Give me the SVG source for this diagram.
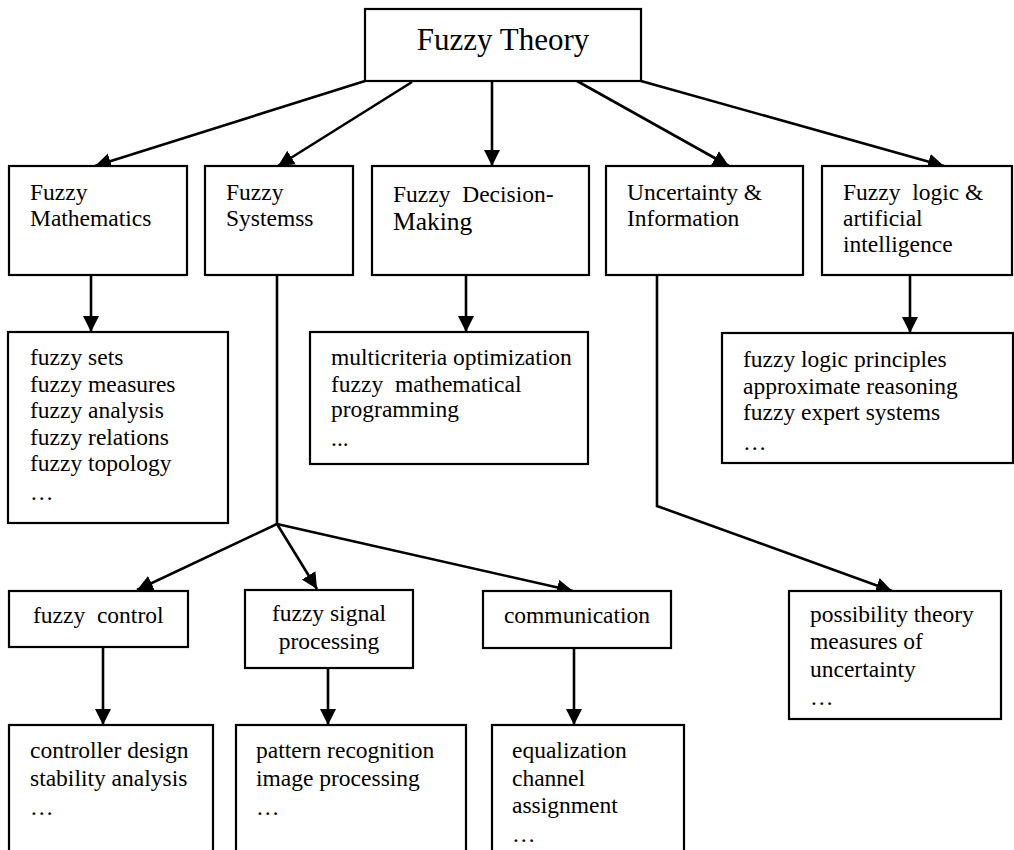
<svg xmlns="http://www.w3.org/2000/svg" width="1014" height="850" viewBox="0 0 1014 850">
<style>
  .box { fill: #fff; stroke: #000; stroke-width: 2.2; }
  .conn { fill: none; stroke: #000; stroke-width: 2.6; }
  text { font-family: "Liberation Serif", "Times New Roman", serif; font-size: 23.5px; fill: #000; }
  .title { font-size: 31px; }
  .big { font-size: 25.5px; }
</style>
<defs>
  <marker id="arr" markerUnits="userSpaceOnUse" markerWidth="18" markerHeight="20" viewBox="0 0 18 20" refX="16" refY="9" orient="auto">
    <path d="M0,1 L16,9 L0,17 z" fill="#000"/>
  </marker>
</defs>
<rect width="1014" height="850" fill="#fff"/>

<g id="connectors">
  <line class="conn" x1="365" y1="81" x2="95" y2="166" marker-end="url(#arr)"/>
  <line class="conn" x1="412" y1="82" x2="278" y2="166" marker-end="url(#arr)"/>
  <line class="conn" x1="492" y1="81" x2="492" y2="166" marker-end="url(#arr)"/>
  <line class="conn" x1="577" y1="81" x2="729" y2="166" marker-end="url(#arr)"/>
  <line class="conn" x1="641" y1="81" x2="944" y2="166" marker-end="url(#arr)"/>
  <line class="conn" x1="91" y1="275" x2="91" y2="332" marker-end="url(#arr)"/>
  <line class="conn" x1="466" y1="275" x2="466" y2="332" marker-end="url(#arr)"/>
  <line class="conn" x1="910" y1="275" x2="910" y2="333" marker-end="url(#arr)"/>
  <line class="conn" x1="277" y1="275" x2="277" y2="524"/>
  <line class="conn" x1="277" y1="524" x2="137" y2="590" marker-end="url(#arr)"/>
  <line class="conn" x1="277" y1="524" x2="317" y2="589" marker-end="url(#arr)"/>
  <line class="conn" x1="277" y1="524" x2="573" y2="591" marker-end="url(#arr)"/>
  <polyline class="conn" points="657,275 657,506 892,591" marker-end="url(#arr)"/>
  <line class="conn" x1="103" y1="647" x2="103" y2="725" marker-end="url(#arr)"/>
  <line class="conn" x1="328" y1="668" x2="328" y2="725" marker-end="url(#arr)"/>
  <line class="conn" x1="574" y1="648" x2="574" y2="725" marker-end="url(#arr)"/>
</g>

<g id="fuzzy-theory">
  <rect class="box" x="365" y="9" width="276" height="72"/>
  <text class="title" x="503" y="50" text-anchor="middle">Fuzzy Theory</text>
</g>

<g id="fuzzy-mathematics">
  <rect class="box" x="9" y="166" width="178" height="109"/>
  <text x="30" y="200">Fuzzy</text>
  <text x="30" y="226">Mathematics</text>
</g>

<g id="fuzzy-systems">
  <rect class="box" x="205" y="166" width="148" height="109"/>
  <text x="226" y="200">Fuzzy</text>
  <text x="226" y="226">Systemss</text>
</g>

<g id="fuzzy-decision">
  <rect class="box" x="372" y="166" width="217" height="109"/>
  <text x="393" y="202" xml:space="preserve">Fuzzy  Decision-</text>
  <text class="big" x="393" y="230">Making</text>
</g>

<g id="uncertainty">
  <rect class="box" x="606" y="166" width="197" height="109"/>
  <text x="627" y="200">Uncertainty &amp;</text>
  <text x="627" y="226">Information</text>
</g>

<g id="fuzzy-logic">
  <rect class="box" x="822" y="166" width="190" height="109"/>
  <text x="843" y="200" xml:space="preserve">Fuzzy  logic &amp;</text>
  <text x="843" y="226">artificial</text>
  <text x="843" y="252">intelligence</text>
</g>

<g id="math-topics">
  <rect class="box" x="8" y="332" width="220" height="191"/>
  <text x="30" y="365">fuzzy sets</text>
  <text x="30" y="391.5">fuzzy measures</text>
  <text x="30" y="418">fuzzy analysis</text>
  <text x="30" y="444.5">fuzzy relations</text>
  <text x="30" y="471">fuzzy topology</text>
  <text x="30" y="500">…</text>
</g>

<g id="decision-topics">
  <rect class="box" x="310" y="332" width="278" height="132"/>
  <text x="331" y="365">multicriteria optimization</text>
  <text x="331" y="391.5" xml:space="preserve">fuzzy  mathematical</text>
  <text x="331" y="417">programming</text>
  <text x="331" y="446">...</text>
</g>

<g id="logic-topics">
  <rect class="box" x="722" y="333" width="291" height="130"/>
  <text x="743" y="367">fuzzy logic principles</text>
  <text x="743" y="393.5">approximate reasoning</text>
  <text x="743" y="420">fuzzy expert systems</text>
  <text x="743" y="450">…</text>
</g>

<g id="fuzzy-control">
  <rect class="box" x="9" y="591" width="179" height="56"/>
  <text x="33" y="623" xml:space="preserve">fuzzy  control</text>
</g>

<g id="signal-processing">
  <rect class="box" x="245" y="590" width="168" height="78"/>
  <text x="329" y="621" text-anchor="middle">fuzzy signal</text>
  <text x="329" y="649" text-anchor="middle">processing</text>
</g>

<g id="communication">
  <rect class="box" x="483" y="591" width="188" height="57"/>
  <text x="577" y="623" text-anchor="middle">communication</text>
</g>

<g id="possibility">
  <rect class="box" x="789" y="591" width="212" height="128"/>
  <text x="810" y="621.5">possibility theory</text>
  <text x="810" y="649">measures of</text>
  <text x="810" y="676.5">uncertainty</text>
  <text x="810" y="705">…</text>
</g>

<g id="control-topics">
  <rect class="box" x="9" y="725" width="204" height="140"/>
  <text x="30" y="758">controller design</text>
  <text x="30" y="786">stability analysis</text>
  <text x="30" y="815">…</text>
</g>

<g id="signal-topics">
  <rect class="box" x="236" y="725" width="230" height="140"/>
  <text x="256" y="758">pattern recognition</text>
  <text x="256" y="786">image processing</text>
  <text x="256" y="815">…</text>
</g>

<g id="communication-topics">
  <rect class="box" x="492" y="725" width="192" height="140"/>
  <text x="512" y="758">equalization</text>
  <text x="512" y="786">channel</text>
  <text x="512" y="813">assignment</text>
  <text x="512" y="842">…</text>
</g>
</svg>
